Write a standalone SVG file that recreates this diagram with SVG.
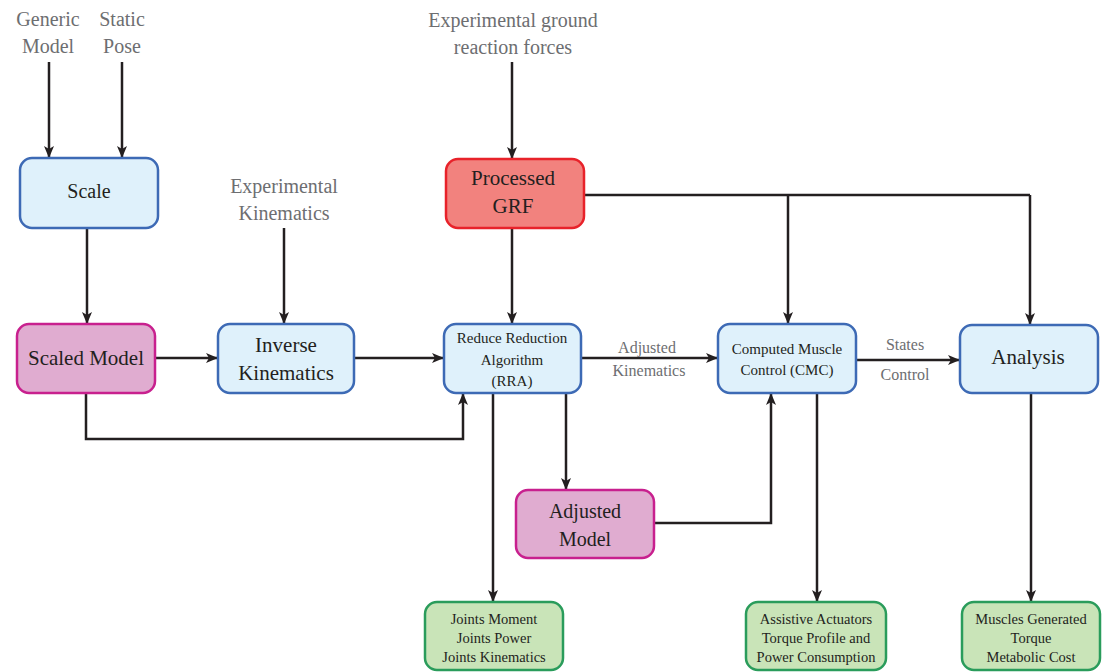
<svg xmlns="http://www.w3.org/2000/svg" width="1103" height="672" viewBox="0 0 1103 672" font-family="'Liberation Serif', 'DejaVu Serif', serif">
<defs>
<marker id="ah" markerWidth="12" markerHeight="10" refX="11" refY="5" orient="auto" markerUnits="userSpaceOnUse">
<path d="M0,0 L12,5 L0,10 L3,5 Z" fill="#231f20"/>
</marker>
<style>
.blue{fill:#dff1fb;stroke:#3d6ab5;stroke-width:2.5}
.pink{fill:#e0acd0;stroke:#c8208e;stroke-width:2.5}
.red{fill:#f2827e;stroke:#e8222a;stroke-width:2.5}
.green{fill:#c9e4b8;stroke:#2a9c5b;stroke-width:2.5}
text{text-anchor:middle;fill:#231f20}
.gray{fill:#6d6e71}
.c line,.c polyline{stroke:#231f20;stroke-width:2.5;fill:none}
.a{marker-end:url(#ah)}
</style>
</defs>
<rect width="1103" height="672" fill="#fff"/>

<g id="labels" font-size="20">
<text class="gray" x="48" y="26">Generic</text>
<text class="gray" x="48" y="53">Model</text>
<text class="gray" x="122" y="26">Static</text>
<text class="gray" x="122" y="53">Pose</text>
<text class="gray" x="513" y="27">Experimental ground</text>
<text class="gray" x="513" y="54">reaction forces</text>
<text class="gray" x="284" y="193">Experimental</text>
<text class="gray" x="284" y="220">Kinematics</text>
</g>

<g class="c" id="connectors">
<line class="a" x1="49" y1="62" x2="49" y2="157"/>
<line class="a" x1="122" y1="62" x2="122" y2="157"/>
<line class="a" x1="87" y1="228" x2="87" y2="323"/>
<line class="a" x1="284" y1="228" x2="284" y2="323"/>
<line class="a" x1="512" y1="62" x2="512" y2="158"/>
<line class="a" x1="512" y1="228" x2="512" y2="323"/>
<line class="a" x1="155" y1="358" x2="217" y2="358"/>
<line class="a" x1="354" y1="358" x2="443" y2="358"/>
<polyline class="a" points="86,393 86,439 463,439 463,394"/>
<line class="a" x1="581" y1="358" x2="717" y2="358"/>
<line class="a" x1="493" y1="393" x2="493" y2="601"/>
<line class="a" x1="566" y1="393" x2="566" y2="489"/>
<polyline class="a" points="654,523 771,523 771,394"/>
<polyline points="584,195 1030,195"/>
<line class="a" x1="788" y1="195" x2="788" y2="323"/>
<line class="a" x1="1030" y1="195" x2="1030" y2="324"/>
<line class="a" x1="856" y1="360" x2="959" y2="360"/>
<line class="a" x1="817" y1="393" x2="817" y2="601"/>
<line class="a" x1="1031" y1="393" x2="1031" y2="601"/>
<text class="gray" x="647" y="353" font-size="16">Adjusted</text>
<text class="gray" x="649" y="376" font-size="16">Kinematics</text>
<text class="gray" x="905" y="350" font-size="16">States</text>
<text class="gray" x="905" y="380" font-size="16">Control</text>
</g>

<g id="scale"><rect class="blue" x="20" y="158" width="138" height="70" rx="12"/>
<text x="89" y="198" font-size="20">Scale</text></g>

<g id="scaled-model"><rect class="pink" x="17" y="324" width="138" height="69" rx="12"/>
<text x="86" y="365" font-size="21">Scaled Model</text></g>

<g id="inverse-kinematics"><rect class="blue" x="218" y="324" width="136" height="69" rx="12"/>
<text x="286" y="352" font-size="21">Inverse</text>
<text x="286" y="380" font-size="21">Kinematics</text></g>

<g id="processed-grf"><rect class="red" x="446" y="159" width="138" height="69" rx="12"/>
<text x="513" y="185" font-size="21">Processed</text>
<text x="513" y="213" font-size="21">GRF</text></g>

<g id="rra"><rect class="blue" x="444" y="324" width="137" height="69" rx="12"/>
<text x="512" y="343" font-size="15">Reduce Reduction</text>
<text x="512" y="365" font-size="15">Algorithm</text>
<text x="512" y="386" font-size="15">(RRA)</text></g>

<g id="cmc"><rect class="blue" x="718" y="324" width="138" height="69" rx="12"/>
<text x="787" y="354" font-size="15">Computed Muscle</text>
<text x="787" y="375" font-size="15">Control (CMC)</text></g>

<g id="analysis"><rect class="blue" x="960" y="325" width="138" height="68" rx="12"/>
<text x="1028" y="364" font-size="21">Analysis</text></g>

<g id="adjusted-model"><rect class="pink" x="516" y="490" width="138" height="68" rx="12"/>
<text x="585" y="518" font-size="20">Adjusted</text>
<text x="585" y="546" font-size="20">Model</text></g>

<g id="joints"><rect class="green" x="425" y="602" width="138" height="68" rx="12"/>
<text x="494" y="624" font-size="14.5">Joints Moment</text>
<text x="494" y="643" font-size="14.5">Joints Power</text>
<text x="494" y="662" font-size="14.5">Joints Kinematics</text></g>

<g id="assistive"><rect class="green" x="746" y="602" width="140" height="68" rx="12"/>
<text x="816" y="624" font-size="14.5">Assistive Actuators</text>
<text x="816" y="643" font-size="14.5">Torque Profile and</text>
<text x="816" y="662" font-size="14.5">Power Consumption</text></g>

<g id="muscles"><rect class="green" x="962" y="602" width="138" height="68" rx="12"/>
<text x="1031" y="624" font-size="14.5">Muscles Generated</text>
<text x="1031" y="643" font-size="14.5">Torque</text>
<text x="1031" y="662" font-size="14.5">Metabolic Cost</text></g>
</svg>
